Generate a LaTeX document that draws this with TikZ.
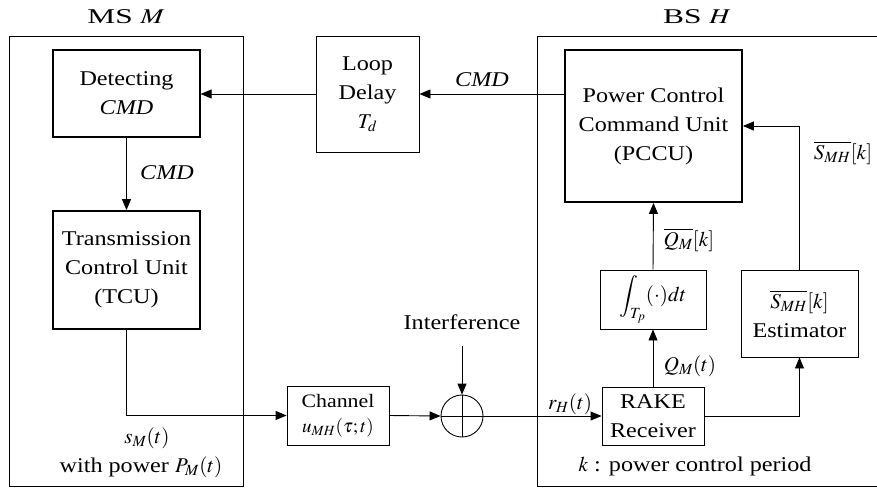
\documentclass[tikz,border=0pt]{standalone}
\usepackage{mathptmx}
\usepackage[no-math]{fontspec}
\setmainfont[FakeStretch=1.15]{Liberation Serif}
\usetikzlibrary{arrows.meta}
\newcommand{\fsmain}{\fontsize{21}{29}\selectfont}
\newcommand{\fssmall}{\fontsize{19}{25}\selectfont}
\tikzset{
  box/.style={draw, line width=0.9pt, align=center, inner sep=0pt, font=\fsmain},
  thickbox/.style={box, line width=1.8pt},
  arr/.style={-{Triangle[length=11pt,width=9pt]}, line width=0.9pt},
  plain/.style={line width=0.9pt},
  lbl/.style={align=center, inner sep=0pt, font=\fsmain}
}
\begin{document}
\begin{tikzpicture}[x=1pt,y=-1pt]
\useasboundingbox (0,0) rectangle (877,488);
% containers
\draw[plain] (9,36) rectangle (243,486);
\draw[plain] (537,36) rectangle (880,486);
\node[lbl] (mslbl) at (126,17) {\scalebox{1.3}[1]{MS $M$}};
\node[lbl] (bslbl) at (697,17) {\scalebox{1.3}[1]{BS $H$}};
% blocks
\node[box, line width=1.2pt, minimum width=147pt, minimum height=87pt] (det) at (126.5,93.5) {Detecting\\\textit{CMD}};
\node[box, minimum width=103pt, minimum height=116pt] (loop) at (367.5,94) {Loop\\Delay\\$T_d$};
\node[thickbox, minimum width=147pt, minimum height=118pt] (tcu) at (126.5,270) {Transmission\\Control Unit\\(TCU)};
\node[thickbox, minimum width=177pt, minimum height=152pt] (pccu) at (653.5,126) {Power Control\\Command Unit\\(PCCU)};
\node[box, minimum width=106pt, minimum height=59pt] (integ) at (653,299.5) {$\displaystyle\int_{T_p}(\cdot)dt$};
\node[box, minimum width=117pt, minimum height=87pt] (est) at (799.5,313.5) {$\overline{S_{MH}}[k]$\\Estimator};
\node[box, minimum width=102pt, minimum height=58pt] (rake) at (653,416) {RAKE\\Receiver};
\node[box, font=\fssmall, minimum width=102pt, minimum height=59pt] (chan) at (338,415.5) {Channel\\$u_{MH}(\tau;t)$};
\node[draw, circle, line width=0.9pt, minimum size=42pt, inner sep=0pt] (sum) at (462,416) {};
\draw[plain] (sum.north) -- (sum.south);
\draw[plain] (sum.west) -- (sum.east);
% connectors
\draw[arr] (loop.west) -- (det.east |- loop.west);
\draw[arr] (pccu.west |- loop.east) -- (loop.east);
\draw[arr] (det.south) -- (tcu.north);
\draw[arr] (tcu.south) |- (chan.west);
\draw[arr] (chan.east) -- (sum.west);
\coordinate (intf) at (462,346);
\draw[arr] (intf) -- (sum.north);
\draw[arr] (sum.east) -- (rake.west);
\draw[arr] (rake.north) -- (integ.south);
\draw[arr] (integ.north) -- (pccu.south);
\draw[arr] (rake.east) -| (est.south);
\draw[arr] (est.north) |- (pccu.east);
% labels
\node[lbl] (cmd1) at (167,173) {\textit{CMD}};
\node[lbl] (cmd2) at (482,80) {\textit{CMD}};
\node[lbl] (intlbl) at (462,322) {Interference};
\node[lbl] (smh) at (843,153) {$\overline{S_{MH}}[k]$};
\node[lbl] (qmk) at (689,240) {$\overline{Q_M}[k]$};
\node[lbl] (qmt) at (690,366) {$Q_M(t)$};
\node[lbl] (rh) at (570,404) {$r_H(t)$};
\node[lbl] (sm) at (147,438) {$s_M(t)$};
\node[lbl] (pw) at (141,467) {with power $P_M(t)$};
\node[lbl] (kp) at (695,466) {$k$ : power control period};
\end{tikzpicture}
\end{document}
